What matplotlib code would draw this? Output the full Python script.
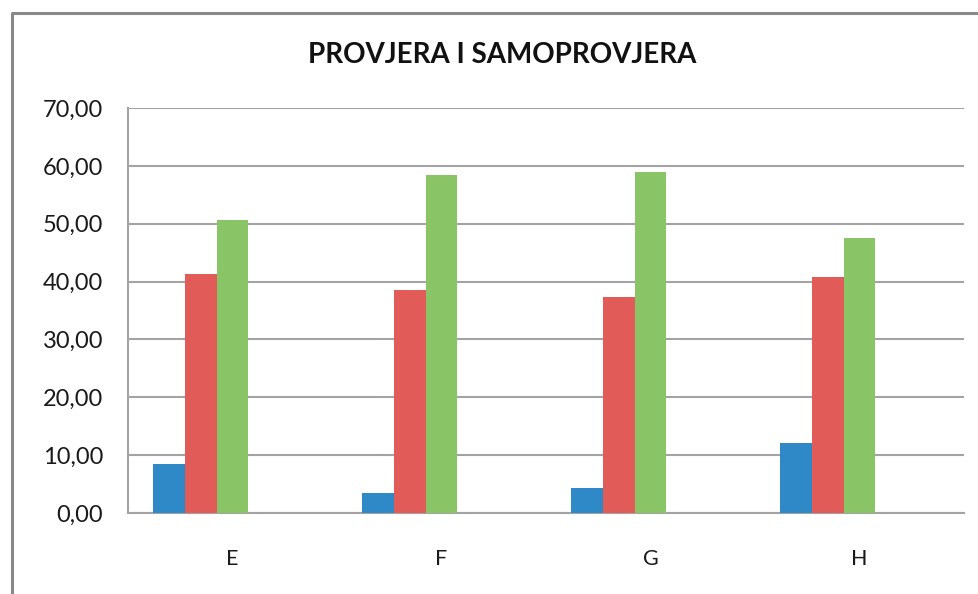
import matplotlib
matplotlib.use("Agg")
import matplotlib.pyplot as plt
import numpy as np
from matplotlib.lines import Line2D

# data
categories = ["E", "F", "G", "H"]
series_a = [8.47, 3.46, 4.32, 12.1]    # blue
series_b = [41.3, 38.5, 37.4, 40.8]    # red
series_c = [50.6, 58.4, 58.9, 47.5]    # green
yticks = [0, 10, 20, 30, 40, 50, 60, 70]
title = "PROVJERA I SAMOPROVJERA"

colors = ["#2e89c6", "#e15b59", "#89c467"]
grid_col = "#a3a3a3"

plt.rcParams['font.family'] = ['Lato', 'DejaVu Sans']

fig = plt.figure(figsize=(9.79, 5.94), dpi=100)
ax = fig.add_axes([128 / 979, 1 - 513 / 594, (964 - 128) / 979, (513 - 108) / 594])

x = np.arange(len(categories))
w = 0.153
# Excel-like layout: 5 slots per category, only first three filled
for i, (vals, col) in enumerate(zip([series_a, series_b, series_c], colors)):
    ax.bar(x + (i - 2) * w, vals, width=w, color=col, zorder=3)

ax.set_xlim(-0.5, len(categories) - 0.5)
ax.set_ylim(0, 70)
ax.set_yticks(yticks)
ax.set_yticklabels([f"{v:.2f}".replace(".", ",") for v in yticks], fontsize=17, color="#1a1a1a")
ax.set_xticks(x)
ax.set_xticklabels(categories, fontsize=15.5, color="#1a1a1a")
ax.tick_params(length=0)
ax.tick_params(axis="y", pad=18)
ax.tick_params(axis="x", pad=26)

ax.yaxis.grid(True, color=grid_col, linewidth=1.5, zorder=0)
for s in ["top", "right"]:
    ax.spines[s].set_visible(False)
for s in ["left", "bottom"]:
    ax.spines[s].set_color(grid_col)
    ax.spines[s].set_linewidth(1.5)

fig.text(502 / 979, 1 - 55 / 594, title, ha="center", va="center",
         fontsize=20, fontweight="bold", color="#111111")

# outer chart border (cropped on right and bottom)
bx, by = 11.5 / 979, 1 - 13 / 594
fig.add_artist(Line2D([bx, bx, 1.0], [0.0, by, by], transform=fig.transFigure,
                      color="#878a87", linewidth=2.2))

fig.savefig("out.png", dpi=100)
